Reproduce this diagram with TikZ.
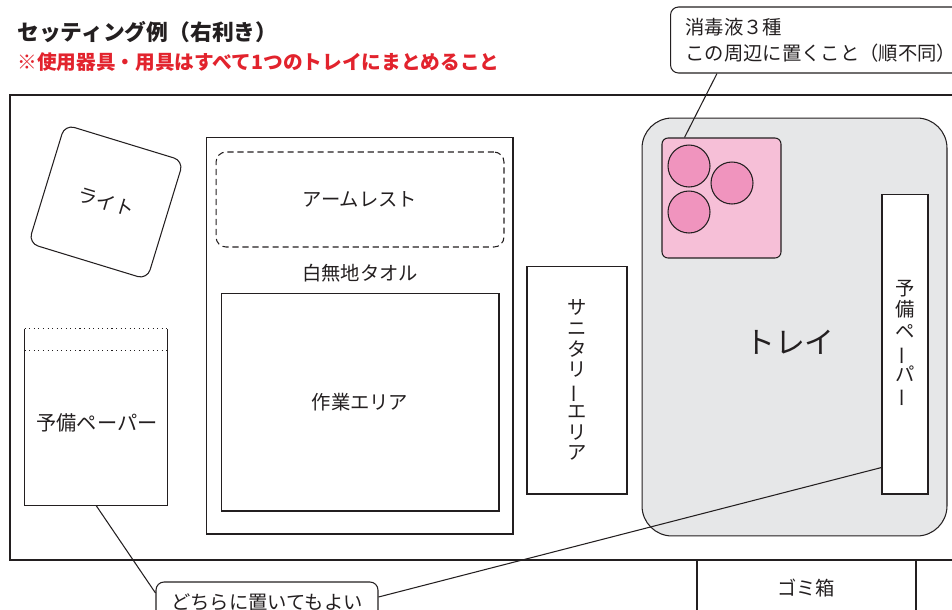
\documentclass[tikz,border=0pt]{standalone}
\usepackage{fontspec}
\setmainfont{Noto Sans CJK JP}
\usepackage{graphicx}
\definecolor{ink}{RGB}{35,31,32}
\definecolor{notered}{RGB}{226,35,45}
\definecolor{traygray}{RGB}{230,231,232}
\definecolor{padpink}{RGB}{246,191,215}
\definecolor{bottlepink}{RGB}{240,148,190}
\newcommand{\vbar}{\rotatebox[origin=c]{90}{ー}}

\begin{document}
\begin{tikzpicture}[x=0.02cm, y=-0.02cm]
            \tikzstyle{every node} = [text=ink, font=\fontsize{11}{13}\selectfont, inner sep=0pt]
            \tikzstyle{box} = [draw=ink, line width=0.6pt]
            \useasboundingbox (0,0) rectangle (952,609);
            \clip (0,0) rectangle (952,609);

            \node[anchor=west, font=\fontsize{12.4}{14}\selectfont\bfseries] (title) at (17,32) {セッティング例（右利き）};
            \node[anchor=west, text=notered, font=\fontsize{11.2}{13}\selectfont\bfseries] (rule) at (17,62) {※使用器具・用具はすべて1つのトレイにまとめること};

            \draw[ink, line width=1.5pt] (10,95) rectangle (990,560);

            \node[box, rounded corners=0.2cm, minimum size=2.48cm, rotate=-17] (light) at (106,202) {ライト};

            \node[minimum width=2.84cm, minimum height=3.52cm] (leftpaper) at (96,417) {};
            \draw[box] (leftpaper.north west) -- (leftpaper.south west) -- (leftpaper.south east) -- (leftpaper.north east);
            \draw[box, dotted] (leftpaper.north west) -- (leftpaper.north east);
            \draw[box, dotted] ([yshift=-0.44cm]leftpaper.north west) -- ([yshift=-0.44cm]leftpaper.north east);
            \node[font=\fontsize{11.5}{13}\selectfont] (leftpapertext) at (97,423) {予備ペーパー};

            \node[box, minimum width=6.14cm, minimum height=7.94cm] (towel) at (359.5,335.5) {};
            \node[box, dash pattern=on 3.5pt off 2.2pt, rounded corners=0.2cm, minimum width=5.76cm, minimum height=1.9cm] (armrest) at (360,199.5) {アームレスト};
            \node (towellabel) at (360,273) {白無地タオル};
            \node[box, minimum width=5.56cm, minimum height=4.36cm] (workarea) at (360,402) {作業エリア};

            \node[box, minimum width=2cm, minimum height=4.56cm, align=center, font=\fontsize{11}{11.8}\selectfont] (sanitary) at (577,380) {サ\\ニ\\タ\\リ\\\vbar\\エ\\リ\\ア};

            \node[box, fill=traygray, rounded corners=0.6cm, minimum width=6.1cm, minimum height=8.36cm] (tray) at (794.5,327) {};
            \node[font=\fontsize{17}{20}\selectfont] (trayname) at (790,342) {トレイ};
            \node[box, fill=padpink, rounded corners=0.12cm, minimum width=2.38cm, minimum height=2.4cm] (pad) at (721.5,198) {};
            \foreach \name/\cx/\cy in {bottlea/689/166, bottleb/732/183, bottlec/689/212}
                \node[box, circle, fill=bottlepink, minimum size=0.84cm] (\name) at (\cx,\cy) {};
            \node[box, fill=white, minimum width=0.92cm, minimum height=6cm, align=center, font=\fontsize{11}{12.2}\selectfont] (traypaper) at (905,344) {予\\備\\ペ\\\vbar\\パ\\\vbar};

            \node[box, fill=white, rounded corners=0.16cm, anchor=west, align=left, inner xsep=0.3cm, minimum height=1.32cm, font=\fontsize{11}{14.7}\selectfont] (note) at (670,40) {消毒液３種\\この周辺に置くこと（順不同）};
            \node[box, fill=white, rounded corners=0.16cm, minimum width=4.44cm, minimum height=0.8cm] (free) at (267,602) {どちらに置いてもよい};

            \node (trash) at (806,588) {ゴミ箱};
            \draw[box] (697,560) -- (697,620);
            \draw[box] (916,560) -- (916,620);

            \draw[box] ([xshift=0.94cm]note.south west) -- ([xshift=0.46cm]pad.north west);
            \draw[box] (leftpaper.south) -- ([yshift=0.18cm]free.west);
            \draw[box] ([yshift=0.1cm]free.east) -- ([yshift=0.54cm]traypaper.south west);
\end{tikzpicture}
\end{document}
